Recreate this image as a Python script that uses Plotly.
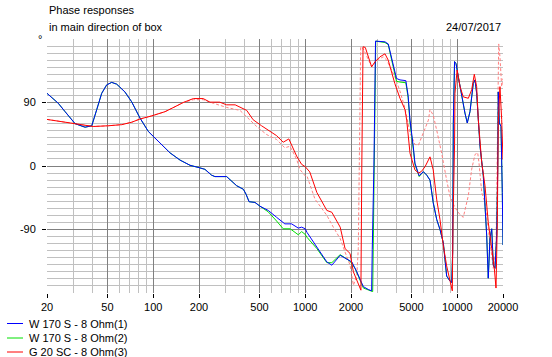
import plotly.graph_objects as go

# ---------------- data ----------------
x_ticks = [20, 50, 100, 200, 500, 1000, 2000, 5000, 10000, 20000]
x_tick_labels = ["20", "50", "100", "200", "500", "1000", "2000", "5000", "10000", "20000"]
x_minor = [30, 40, 60, 70, 80, 90, 300, 400, 600, 700, 800, 900,
           3000, 4000, 6000, 7000, 8000, 9000]
y_ticks = [-90, 0, 90]
y_tick_labels = ["-90", "0", "90"]
y_minor = [v for v in range(-180, 181, 10) if v not in (-90, 0, 90)]

series_names = ["W 170 S - 8 Ohm(1)", "W 170 S - 8 Ohm(2)", "G 20 SC - 8 Ohm(3)"]
series_colors = ["#0000ff", "#00e000", "#ff0000"]
ref_color = "#ff8080"

freq_blue = [20, 23.7, 26.3, 30.6, 35.6, 39.4, 42.5, 45.8, 49.4, 53.3, 57.5, 65.1, 72.1, 81.8,
             92.8, 107.8, 128.8, 150, 174.6, 200, 218.7, 242, 254.6, 304, 354, 391.6, 408, 427,
             467, 504, 571, 648, 734, 813, 900, 947, 1000, 1026, 1192, 1387, 1496, 1698, 1878,
             2026, 2184, 2412, 2600, 2734, 2760, 2830, 2900, 3346, 3516, 3786, 3986, 4200, 4590,
             4750, 4890, 5140, 5270, 5620, 5980, 6300, 6620, 6950, 7330, 7700, 8100, 8300, 8520,
             8960, 9200, 9330, 9420, 9600, 9820, 10160, 10700, 11240, 11640, 12130, 12750, 13090,
             13420, 14120, 14840, 15230, 15620, 16000, 16420, 16860, 17270, 17720, 18180, 18460,
             18620, 18910, 19400, 19790, 20000]
phase_blue = [103, 89, 77, 60, 55, 57, 80, 103, 115, 118.5, 116, 105, 91, 68,
              49, 35, 18.7, 8.4, 1, -2.3, -4.7, -13, -15, -15, -28, -33, -40, -50.6,
              -51.6, -57, -63, -72.7, -82, -82, -88, -86.7, -89, -94, -115, -136, -140.6, -126.6, -132,
              -136, -150, -171, -175, -177, -118, -1, 177, 176, 173, 143, 124, 122, 121,
              100, 65, 27, 4, -14, -8, -13, -20, -52, -76, -90, -109, -132, -156,
              -163, -165, -122, 60, 148, 145, 126.6, 98, 75, 61, 77, 117, 122,
              103, 28, -14, -51.6, -98, -159, -103, -89, -140.6, -145, -98, -5,
              105, 61, 56, -37.5, -112]

freq_green = [20, 23.7, 26.3, 30.6, 35.6, 39.4, 42.5, 45.8, 49.4, 53.3, 57.5, 65.1, 72.1, 81.8,
              92.8, 107.8, 128.8, 150, 174.6, 200, 218.7, 242, 254.6, 304, 354, 391.6, 408, 427,
              467, 504, 571, 648, 716, 796, 900, 947, 1000, 1026, 1192, 1387, 1496, 1698, 1972,
              2126, 2412, 2778, 2800, 2850, 2910, 3346, 3516, 3786, 3986, 4200, 4590,
              4750, 4890, 5140, 5270, 5620, 5980, 6300, 6620, 6950, 7330, 7700, 8100, 8300, 8520,
              8960, 9200, 9330, 9420, 9600, 9820, 10160, 10700, 11240, 11640, 12130, 12750, 13090,
              13420, 14120, 14840, 15230, 15620, 16000, 16420, 16860, 17270, 17720, 18180, 18460,
              18620, 18910, 19400, 19790, 20000]
phase_green = [103, 89, 77, 60, 55, 57, 80, 103, 115, 118.5, 116, 105, 91, 68,
               49, 35, 18.7, 8.4, 1, -2.3, -4.7, -13, -15, -15, -28, -33, -40, -50.6,
               -51.6, -57, -65, -78, -89, -89, -97.5, -93, -97, -101, -117, -137, -137, -125.6, -135,
               -145, -173, -178, -118, -1, 177, 175, 172, 141, 120, 119, 118,
               97, 61, 24, 2, -15, -8, -13, -20, -52, -76, -90, -109, -132, -156,
               -163, -165, -122, 60, 148, 145, 126.6, 98, 75, 61, 77, 117, 122,
               103, 28, -14, -51.6, -98, -159, -103, -89, -140.6, -145, -98, -5,
               105, 61, 56, -37.5, -112]

freq_red = [20, 26.3, 32.1, 40.3, 50.6, 62, 72.1, 81.8, 97.6, 119.6, 139, 157.6, 183.6, 213,
            236, 274, 304, 346, 412, 454, 516, 586, 648, 716, 780, 878, 947, 1000, 1071, 1192,
            1387, 1496, 1698, 1828, 1972, 2074, 2202, 2324, 2356, 2400, 2484, 2734, 2880, 3100,
            3346, 3516, 3884, 4200, 4530, 4650, 4890, 5270, 5550, 5800, 6140, 6620, 6950, 7330,
            7700, 8100, 8520, 8960, 9280, 9380, 9500, 9600, 9660, 9980, 10430, 10960, 11830,
            12440, 12950, 13420, 13760, 14490, 15230, 16000, 16860, 17530, 17990, 18350, 18620,
            19100, 19600, 20000]
phase_red = [66, 62, 58.6, 56, 57, 58.6, 62, 66.6, 71, 77, 84, 90, 95.6, 95.6,
             90.5, 90.5, 86.7, 86.7, 78.8, 65.6, 57, 49, 43, 33.7, 38.4, 14, 2.3, -1, -8.4, -37.5,
             -63, -65.6, -86.7, -117, -124, -150, -164, -176, 0, 169, 168, 140.6, 147.7, 154.7,
             159, 150, 117, 96, 80, 65, 18, -5.6, -10, -8, -1, 13, -5.6, -48,
             -76, -113, -141.6, -165, -177, -80, -30, 30, 103, 136, 112.5, 98, 96,
             108, 130, 112.5, 66, 4.7, -28, -80, -117, -145, -173, -80, 61,
             112.5, 66, 9]

freq_ref = [20, 26.3, 32.1, 40.3, 50.6, 62, 72.1, 81.8, 97.6, 119.6, 139, 157.6, 183.6, 213,
            248, 304, 372, 433, 479, 558, 648, 734, 794, 878, 923, 1000, 1026, 1159, 1250, 1387,
            1530, 1698, 1828, 1972, 2074, 2184, 2234, 2268, 2316, 2412, 2600, 2734, 2952, 3264,
            3436, 3884, 4200, 4530, 4890, 5270, 5550, 5980, 6460, 6620, 6950, 7330, 7900, 8520,
            8960, 9660, 10430, 10960, 11830, 12440, 13090, 13630, 13900, 14490, 15230, 16420,
            17270, 17990, 18350, 18740, 19100, 19600, 20000]
phase_ref = [66, 62, 58.6, 56, 57, 58.6, 62, 66.6, 71, 77, 84, 90, 94, 94,
             89, 83, 78.8, 65.6, 56, 44.5, 37.5, 25.8, 28, 9.4, -5, -14, -14, -47, -56, -70,
             -86.7, -103, -122, -140.6, -169, -155, -117, 4.7, 169, 166, 150, 140.6, 150, 154.7,
             150, 126.6, 106, 82, 47, 30.5, 29.5, 46, 65, 80, 72, 50.6, 18, -20,
             -43, -59, -69, -72.7, -42, -4.7, 16.4, 18.7, 4.7, -37.5, -51.6, -108,
             -145, -117, -4.7, 173, 154.7, 112.5, 124]

title_lines = ["Phase responses", "in main direction of box"]
date_text = "24/07/2017"
unit_text = "°"

# ---------------- layout geometry ----------------
W, H = 552, 357
ML, MR, MT, MB = 47, 49, 39, 64
PW, PH = W - ML - MR, H - MT - MB
FONT = "Liberation Sans, Arial, sans-serif"


def px(x):
    return (x - ML) / PW


def py(y):
    return (H - MB - y) / PH


fig = go.Figure()
fig.add_trace(go.Scatter(x=freq_ref, y=phase_ref, mode="lines",
                         line=dict(color=ref_color, width=1, dash="3px,2px"),
                         showlegend=False, hoverinfo="skip"))
fig.add_trace(go.Scatter(x=freq_green, y=phase_green, mode="lines", name=series_names[1],
                         line=dict(color=series_colors[1], width=1)))
fig.add_trace(go.Scatter(x=freq_blue, y=phase_blue, mode="lines", name=series_names[0],
                         line=dict(color=series_colors[0], width=1)))
fig.add_trace(go.Scatter(x=freq_red, y=phase_red, mode="lines", name=series_names[2],
                         line=dict(color=series_colors[2], width=1)))

major_col = "#808080"
minor_col = "#c0c0c0"

fig.update_xaxes(type="log", range=[1.30103, 4.30103],
                 tickmode="array", tickvals=x_ticks, ticktext=x_tick_labels,
                 ticks="outside", ticklen=4, tickcolor="#000000", tickwidth=1,
                 showgrid=True, gridcolor=major_col, gridwidth=1,
                 minor=dict(tickvals=x_minor, showgrid=True, gridcolor=minor_col, ticks=""),
                 showline=False, zeroline=False,
                 tickfont=dict(family=FONT, size=11, color="#000000"))
fig.update_yaxes(range=[-180, 180],
                 tickmode="array", tickvals=y_ticks, ticktext=y_tick_labels,
                 ticks="outside", ticklen=4, tickcolor="#000000", tickwidth=1,
                 ticklabelstandoff=4,
                 showgrid=True, gridcolor=major_col, gridwidth=1,
                 minor=dict(tickvals=y_minor, showgrid=True, gridcolor=minor_col, ticks=""),
                 showline=False, zeroline=False,
                 tickfont=dict(family=FONT, size=11, color="#000000"))

annotations = [
    dict(text=title_lines[0], x=px(47), y=py(10), xanchor="left", yanchor="middle"),
    dict(text=title_lines[1], x=px(47), y=py(27), xanchor="left", yanchor="middle"),
    dict(text=date_text, x=px(503), y=py(27), xanchor="right", yanchor="middle"),
    dict(text=unit_text, x=px(40), y=py(39), xanchor="center", yanchor="middle"),
]
shapes = []
legend_rows = [323.5, 338, 352]
for name, col, yy in zip(series_names, series_colors, legend_rows):
    shapes.append(dict(type="line", xref="paper", yref="paper",
                       x0=px(7), x1=px(23), y0=py(yy), y1=py(yy),
                       line=dict(color=col, width=1)))
    annotations.append(dict(text=name, x=px(27), y=py(yy), xanchor="left", yanchor="middle"))

for a in annotations:
    a.update(xref="paper", yref="paper", showarrow=False,
             font=dict(family=FONT, size=11, color="#000000"))

fig.update_layout(width=W, height=H, margin=dict(l=ML, r=MR, t=MT, b=MB, pad=0),
                  paper_bgcolor="#ffffff", plot_bgcolor="#ffffff",
                  showlegend=False, annotations=annotations, shapes=shapes)

fig.write_html("out.html", config={"displayModeBar": False},
               post_script="document.body.style.margin='0';document.body.style.overflow='hidden';")
